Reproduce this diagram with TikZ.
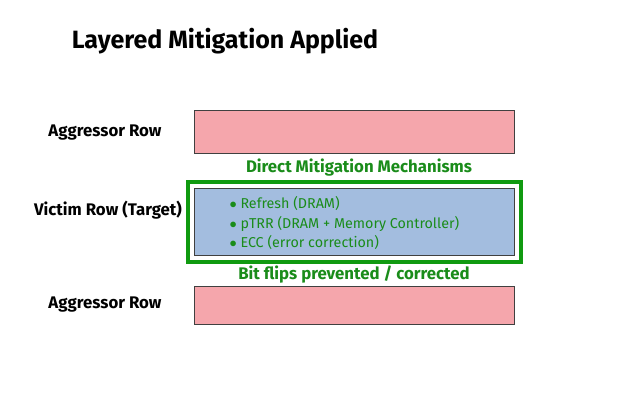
\documentclass[tikz,border=0pt]{standalone}
\usepackage{fontspec}
\setmainfont{Fira Sans}
\usepackage{tikz}
\usetikzlibrary{positioning}
\definecolor{rowpink}{HTML}{F5A6AC}
\definecolor{victimblue}{HTML}{A3BDDF}
\definecolor{guardgreen}{HTML}{109A10}
\definecolor{textgreen}{HTML}{1A8C1A}
\tikzstyle{rowlabel} = [font=\bfseries\fontsize{16.8}{19}\selectfont, text=black]
\tikzstyle{agrow} = [rectangle, draw=black!75, fill=rowpink, minimum width=320pt, minimum height=43pt]
\tikzstyle{vrow} = [rectangle, draw=black!75, fill=victimblue, minimum width=320pt, minimum height=67pt]
\tikzstyle{guard} = [rectangle, draw=guardgreen, line width=4pt, minimum width=333pt, minimum height=80pt]
\tikzstyle{note} = [font=\bfseries\fontsize{16.8}{19}\selectfont, text=textgreen]

\begin{document}
\begin{tikzpicture}[x=1pt, y=-1pt]
    \useasboundingbox[fill=white] (0,0) rectangle (629,419);
    \node[font=\bfseries\fontsize{25}{30}\selectfont](title) at (225,41){Layered Mitigation Applied};

    \node[agrow](topagg) at (354,131.5){};
    \node[guard](guard) at (354.5,222){};
    \node[vrow](victim) at (354,221.5){};
    \node[agrow, minimum height=38pt](botagg) at (354,305){};

    \node[rowlabel](toplabel) at (105,132.5){Aggressor Row};
    \node[rowlabel](victimlabel) at (108,210.5){Victim Row (Target)};
    \node[rowlabel](botlabel) at (105,304.5){Aggressor Row};

    \node[note](direct) at (359,167.5){Direct Mitigation Mechanisms};
    \node[note](result) at (354,274.5){Bit flips prevented / corrected};

    \node[anchor=west, align=left, text=textgreen, font=\fontsize{14.3}{19.8}\selectfont](mechs) at (226,223){%
        $\bullet$ Refresh (DRAM)\\
        $\bullet$ pTRR (DRAM + Memory Controller)\\
        $\bullet$ ECC (error correction)};
\end{tikzpicture}
\end{document}
